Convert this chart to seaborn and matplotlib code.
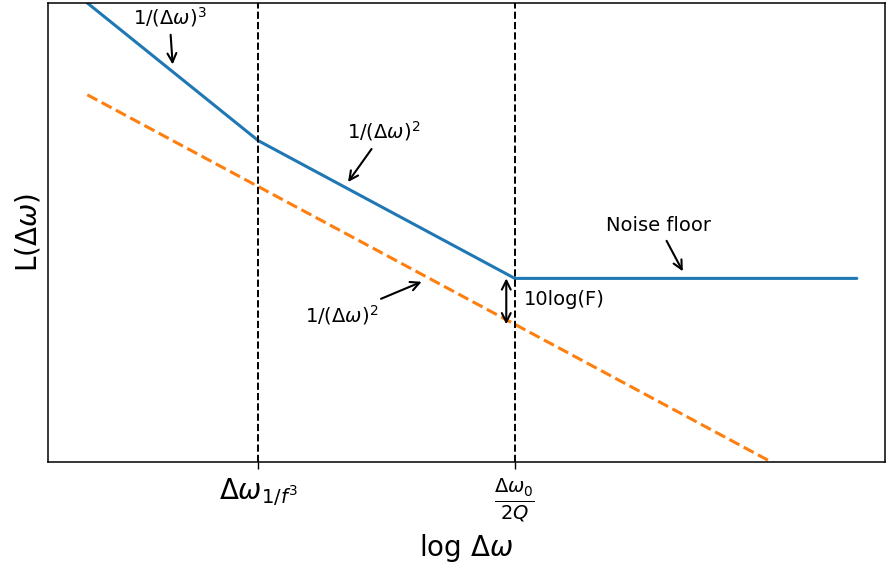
import matplotlib
matplotlib.use("Agg")
import matplotlib.pyplot as plt
import seaborn as sns
import pandas as pd

# Leeson phase-noise asymptotes (x: log offset in decades, y: level in dB)
oscillator_x = [0, 2, 5, 9]
oscillator_y = [120, 60, 0, 0]
resonator_x = [0, 9]
resonator_y = [80, -100]

corner_flicker = 2
corner_leeson = 5
noise_figure_db = 20

tick_positions = [corner_flicker, corner_leeson]
tick_labels = [r"$\Delta\omega_{1/f^3}$", r"$\frac{\Delta\omega_0}{2Q}$"]

sns.set_style("ticks")
plt.rcParams["font.family"] = ["DejaVu Sans"]
plt.rcParams.update({
    "text.color": "black",
    "axes.labelcolor": "black",
    "xtick.color": "black",
    "ytick.color": "black",
    "axes.edgecolor": "black",
})

fig = plt.figure(figsize=(8.86, 5.67), dpi=100)
ax = fig.add_axes([0.0542, 0.1852, 0.9447, 0.8095])

osc = pd.DataFrame({"x": oscillator_x, "y": oscillator_y})
res = pd.DataFrame({"x": resonator_x, "y": resonator_y})

sns.lineplot(data=osc, x="x", y="y", ax=ax, color="#1f77b4", lw=2.2, sort=False)
sns.lineplot(data=res, x="x", y="y", ax=ax, color="#ff7f0e", lw=2.2, sort=False)
ax.lines[-1].set_linestyle("--")

for xc in tick_positions:
    ax.axvline(xc, color="black", ls="--", lw=1.4)

ax.set_xlim(-0.46, 9.33)
ax.set_ylim(-80, 120)

ax.set_xticks(tick_positions)
ax.set_xticklabels(tick_labels, fontsize=20)
ax.set_yticks([])
ax.tick_params(axis="x", length=5, width=1, pad=5, color="black", labelcolor="black")

ax.set_xlabel(r"log $\Delta\omega$", fontsize=20, color="black", labelpad=6)
ax.set_ylabel(r"L($\Delta\omega$)", fontsize=20, color="black")

for s in ax.spines.values():
    s.set_color("black")
    s.set_linewidth(1.1)

arrow = dict(arrowstyle="->", color="black", lw=1.5, mutation_scale=16)

ax.annotate(r"1/$(\Delta\omega)^3$", xy=(1.0, 92), xytext=(0.96, 114),
            ha="center", va="center", fontsize=14, color="black", arrowprops=arrow)
ax.annotate(r"1/$(\Delta\omega)^2$", xy=(3.03, 41), xytext=(3.47, 64),
            ha="center", va="center", fontsize=14, color="black", arrowprops=arrow)
ax.annotate(r"1/$(\Delta\omega)^2$", xy=(3.94, -1), xytext=(2.98, -16),
            ha="center", va="center", fontsize=14, color="black", arrowprops=arrow)
ax.annotate("Noise floor", xy=(6.98, 2), xytext=(6.68, 23),
            ha="center", va="center", fontsize=14, color="black", arrowprops=arrow)

ax.annotate("", xy=(4.9, 0), xytext=(4.9, -noise_figure_db),
            arrowprops=dict(arrowstyle="<->", color="black", lw=1.5,
                            mutation_scale=16, shrinkA=0, shrinkB=0))
ax.text(5.11, -9.2, "10log(F)", ha="left", va="center", fontsize=14, color="black")

fig.savefig("out.png", dpi=100)
